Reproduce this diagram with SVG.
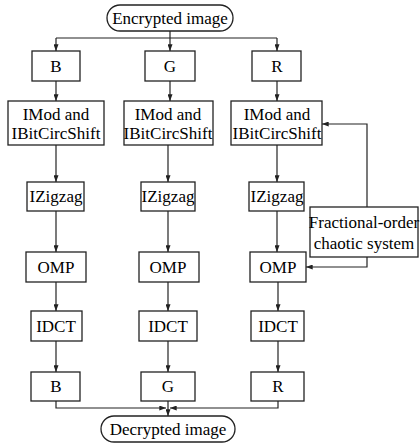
<svg xmlns="http://www.w3.org/2000/svg" width="420" height="443" viewBox="0 0 420 443">
<defs>
<marker id="ah" viewBox="0 0 8 6" refX="8" refY="3" markerWidth="7" markerHeight="5" markerUnits="userSpaceOnUse" orient="auto">
<path d="M0,0 L8,3 L0,6 Z" fill="#222"/>
</marker>
<style>
.b{fill:#fff;stroke:#222;stroke-width:1.3}
.c{fill:none;stroke:#222;stroke-width:1.2}
</style>
</defs>
<rect width="420" height="443" fill="#fff"/>
<g id="connectors">
<path class="c" d="M170,31 V38"/>
<path class="c" d="M56,38 H277"/>
<path class="c" d="M56,38 V51" marker-end="url(#ah)"/>
<path class="c" d="M170,38 V51" marker-end="url(#ah)"/>
<path class="c" d="M277,38 V51" marker-end="url(#ah)"/>
<path class="c" d="M56,81 V101" marker-end="url(#ah)"/>
<path class="c" d="M170,81 V101" marker-end="url(#ah)"/>
<path class="c" d="M277,81 V101" marker-end="url(#ah)"/>
<path class="c" d="M56,145 V182" marker-end="url(#ah)"/>
<path class="c" d="M168,145 V182" marker-end="url(#ah)"/>
<path class="c" d="M277,145 V182" marker-end="url(#ah)"/>
<path class="c" d="M56,211 V252" marker-end="url(#ah)"/>
<path class="c" d="M168,211 V252" marker-end="url(#ah)"/>
<path class="c" d="M277,211 V252" marker-end="url(#ah)"/>
<path class="c" d="M56,282 V311" marker-end="url(#ah)"/>
<path class="c" d="M168,282 V311" marker-end="url(#ah)"/>
<path class="c" d="M278,282 V311" marker-end="url(#ah)"/>
<path class="c" d="M56,341 V372" marker-end="url(#ah)"/>
<path class="c" d="M168,341 V372" marker-end="url(#ah)"/>
<path class="c" d="M278,341 V372" marker-end="url(#ah)"/>
<path class="c" d="M367,207 V124 H322" marker-end="url(#ah)"/>
<path class="c" d="M367,257 V267 H306" marker-end="url(#ah)"/>
<path class="c" d="M56,401 V408 H166" marker-end="url(#ah)"/>
<path class="c" d="M278,401 V408 H170" marker-end="url(#ah)"/>
<path class="c" d="M168,401 V416" marker-end="url(#ah)"/>
</g>
<g id="enc"><rect class="b" x="107" y="5" width="126" height="26" rx="13"/><text x="170" y="24" font-family="Liberation Serif" font-size="17" text-anchor="middle">Encrypted image</text></g>
<g id="b1"><rect class="b" x="32" y="51" width="48" height="30"/><text x="56" y="72" font-family="Liberation Serif" font-size="17" text-anchor="middle">B</text></g>
<g id="g1"><rect class="b" x="145" y="51" width="50" height="30"/><text x="170" y="72" font-family="Liberation Serif" font-size="17" text-anchor="middle">G</text></g>
<g id="r1"><rect class="b" x="252" y="51" width="49" height="30"/><text x="277" y="72" font-family="Liberation Serif" font-size="17" text-anchor="middle">R</text></g>
<g id="imod1"><rect class="b" x="8" y="101" width="96" height="44"/><text x="56" y="120" font-family="Liberation Serif" font-size="17" text-anchor="middle">IMod and</text><text x="56" y="139" font-family="Liberation Serif" font-size="17" text-anchor="middle">IBitCircShift</text></g>
<g id="imod2"><rect class="b" x="124" y="101" width="89" height="44"/><text x="168" y="120" font-family="Liberation Serif" font-size="17" text-anchor="middle">IMod and</text><text x="168" y="139" font-family="Liberation Serif" font-size="17" text-anchor="middle">IBitCircShift</text></g>
<g id="imod3"><rect class="b" x="231" y="101" width="91" height="44"/><text x="277" y="120" font-family="Liberation Serif" font-size="17" text-anchor="middle">IMod and</text><text x="277" y="139" font-family="Liberation Serif" font-size="17" text-anchor="middle">IBitCircShift</text></g>
<g id="zz1"><rect class="b" x="27" y="182" width="57" height="29"/><text x="56" y="202" font-family="Liberation Serif" font-size="17" text-anchor="middle">IZigzag</text></g>
<g id="zz2"><rect class="b" x="141" y="182" width="54" height="29"/><text x="168" y="202" font-family="Liberation Serif" font-size="17" text-anchor="middle">IZigzag</text></g>
<g id="zz3"><rect class="b" x="249" y="182" width="55" height="29"/><text x="277" y="202" font-family="Liberation Serif" font-size="17" text-anchor="middle">IZigzag</text></g>
<g id="frac"><rect class="b" x="310" y="207" width="108" height="50"/><text x="364" y="228" font-family="Liberation Serif" font-size="17" text-anchor="middle">Fractional-order</text><text x="364" y="249" font-family="Liberation Serif" font-size="17" text-anchor="middle">chaotic system</text></g>
<g id="omp1"><rect class="b" x="26" y="252" width="60" height="30"/><text x="56" y="273" font-family="Liberation Serif" font-size="17" text-anchor="middle">OMP</text></g>
<g id="omp2"><rect class="b" x="139" y="252" width="60" height="30"/><text x="168" y="273" font-family="Liberation Serif" font-size="17" text-anchor="middle">OMP</text></g>
<g id="omp3"><rect class="b" x="250" y="252" width="56" height="30"/><text x="278" y="273" font-family="Liberation Serif" font-size="17" text-anchor="middle">OMP</text></g>
<g id="idct1"><rect class="b" x="31" y="311" width="51" height="30"/><text x="56" y="332" font-family="Liberation Serif" font-size="17" text-anchor="middle">IDCT</text></g>
<g id="idct2"><rect class="b" x="139" y="311" width="58" height="30"/><text x="168" y="332" font-family="Liberation Serif" font-size="17" text-anchor="middle">IDCT</text></g>
<g id="idct3"><rect class="b" x="251" y="311" width="53" height="30"/><text x="278" y="332" font-family="Liberation Serif" font-size="17" text-anchor="middle">IDCT</text></g>
<g id="b2"><rect class="b" x="31" y="372" width="49" height="29"/><text x="56" y="392" font-family="Liberation Serif" font-size="17" text-anchor="middle">B</text></g>
<g id="g2"><rect class="b" x="141" y="372" width="54" height="29"/><text x="168" y="392" font-family="Liberation Serif" font-size="17" text-anchor="middle">G</text></g>
<g id="r2"><rect class="b" x="251" y="372" width="53" height="29"/><text x="278" y="392" font-family="Liberation Serif" font-size="17" text-anchor="middle">R</text></g>
<g id="dec"><rect class="b" x="101" y="416" width="134" height="26" rx="13"/><text x="168" y="435" font-family="Liberation Serif" font-size="17" text-anchor="middle">Decrypted image</text></g>
</svg>
